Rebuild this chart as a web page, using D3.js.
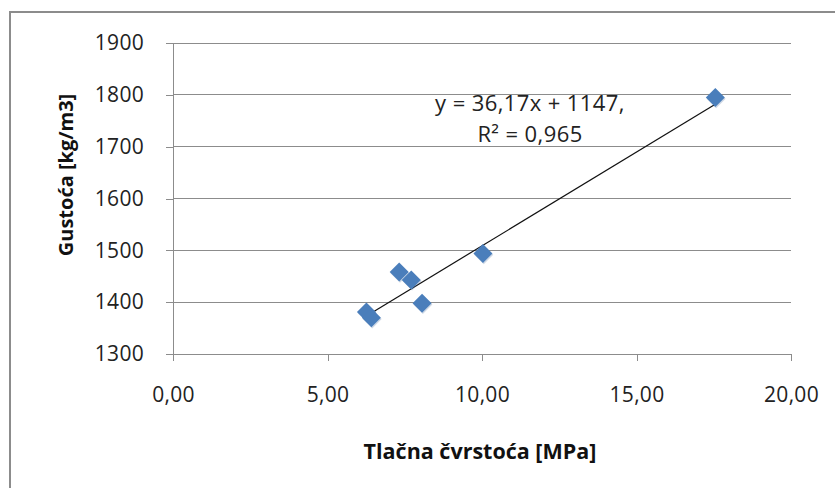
<!DOCTYPE html>
<html><head><meta charset="utf-8">
<script src="https://cdn.jsdelivr.net/npm/d3@7"></script>
<style>body{margin:0;background:#fff;} svg{display:block;} text{font-family:"Open Sans","Noto Sans",sans-serif;}</style>
</head><body>
<script>
const strength = [6.26, 6.42, 7.32, 7.71, 8.06, 10.03, 17.55];
const density  = [1381, 1370, 1458, 1443, 1398, 1494, 1795];
const xTicks = [0, 5, 10, 15, 20];
const yTicks = [1300, 1400, 1500, 1600, 1700, 1800, 1900];
const trendSlope = 36.17, trendIntercept = 1147;
const eqLines = ["y = 36,17x + 1147,", "R² = 0,965"];
const xTitle = "Tlačna čvrstoća [MPa]";
const yTitle = "Gustoća [kg/m3]";

const W = 835, H = 488;
const svg = d3.select("body").append("svg").attr("width", W).attr("height", H);
svg.append("rect").attr("x", 10).attr("y", 12).attr("width", 840).attr("height", 500)
  .attr("fill", "#fff").attr("stroke", "#8c8c8c").attr("stroke-width", 2);

const x = d3.scaleLinear().domain([0, 20]).range([173, 791]);
const y = d3.scaleLinear().domain([1300, 1900]).range([354, 43]);
const fmt = d => d.toFixed(2).replace(".", ",");

// gridlines
svg.append("g").selectAll("line").data(yTicks.filter(d => d > 1300)).join("line")
  .attr("x1", x(0)).attr("x2", x(20)).attr("y1", d => y(d)).attr("y2", d => y(d))
  .attr("stroke", "#8c8c8c").attr("stroke-width", 1).attr("shape-rendering", "crispEdges");

const yAxis = svg.append("g").attr("transform", `translate(${x(0)},0)`)
  .call(d3.axisLeft(y).tickValues(yTicks).tickSize(7).tickPadding(22).tickFormat(d => d));
const xAxis = svg.append("g").attr("transform", `translate(0,${y(1300)})`)
  .call(d3.axisBottom(x).tickValues(xTicks).tickSize(7).tickPadding(26).tickFormat(fmt));
[yAxis, xAxis].forEach(a => {
  a.select(".domain").attr("stroke", "#8c8c8c").attr("shape-rendering", "crispEdges");
  a.selectAll(".tick line").attr("stroke", "#8c8c8c").attr("shape-rendering", "crispEdges");
  a.selectAll(".tick text").attr("font-size", 21).attr("fill", "#222")
    .attr("font-family", "'Open Sans','Noto Sans',sans-serif").attr("letter-spacing", 0.3);
});

// trendline
const xs = d3.extent(strength);
svg.append("line")
  .attr("x1", x(xs[0])).attr("y1", y(trendSlope * xs[0] + trendIntercept))
  .attr("x2", x(xs[1])).attr("y2", y(trendSlope * xs[1] + trendIntercept))
  .attr("stroke", "#111").attr("stroke-width", 1.2);

// markers
const pts = strength.map((v, i) => [v, density[i]]);
const diamond = "M0,-9.5L9.5,0L0,9.5L-9.5,0Z";
svg.append("g").selectAll("path.sh").data(pts).join("path")
  .attr("d", diamond).attr("fill", "#3a6596").attr("opacity", 0.25)
  .attr("transform", d => `translate(${x(d[0]) + 0.8},${y(d[1]) + 1.2})`);
svg.append("g").selectAll("path.pt").data(pts).join("path")
  .attr("d", diamond).attr("fill", "#4a7ebb")
  .attr("transform", d => `translate(${x(d[0])},${y(d[1])})`);

// trend equation
svg.append("g").selectAll("text").data(eqLines).join("text")
  .attr("x", 530).attr("y", (d, i) => 111 + i * 31).attr("text-anchor", "middle")
  .attr("font-size", 22).attr("fill", "#222").attr("letter-spacing", 0.4).text(d => d);

// titles
svg.append("text").attr("x", 480).attr("y", 459).attr("text-anchor", "middle")
  .attr("font-size", 21.5).attr("font-weight", "bold").attr("fill", "#111").text(xTitle);
svg.append("text").attr("transform", "translate(73,175) rotate(-90)").attr("text-anchor", "middle")
  .attr("font-size", 20).attr("font-weight", "bold").attr("fill", "#111").text(yTitle);
</script>
</body></html>
